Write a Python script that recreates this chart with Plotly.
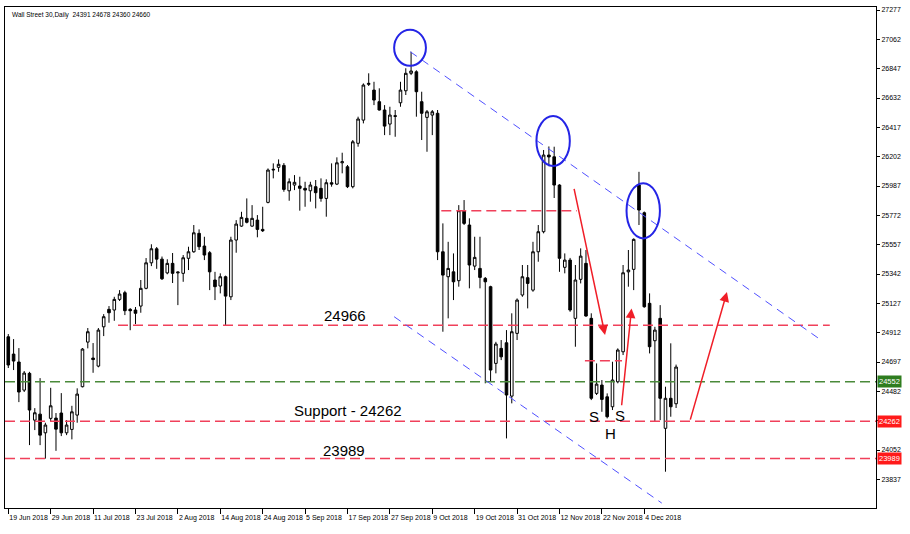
import plotly.graph_objects as go
import pandas as pd

# ---------------- data ----------------
dates = pd.bdate_range("2018-06-19", periods=127)

opens = [24882, 24755, 24697, 24491, 24614, 24271, 24315, 24178, 24284, 24286,
         24323, 24178, 24203, 24308, 24516, 24843, 24726, 24667, 24955, 25083,
         25078, 25156, 25205, 25083, 25078, 25107, 25237, 25424, 25527, 25451,
         25350, 25420, 25350, 25347, 25457, 25505, 25640, 25547, 25498, 25298,
         25254, 25322, 25175, 25591, 25693, 25750, 25693, 25737, 25669, 25867,
         26104, 26124, 26138, 25952, 25994, 25987, 25970, 25952, 25982, 25970,
         25896, 26011, 26001, 26157, 26128, 25982, 26300, 26470, 26732, 26690,
         26605, 26544, 26441, 26502, 26597, 26685, 26813, 26824, 26605, 26490,
         26507, 26520, 25505, 25322, 25358, 25293, 25806, 25701, 25400, 25383,
         25310, 25249, 24687, 24797, 24838, 24447, 24907, 25188, 25315, 25224,
         25505, 25652, 26214, 26201, 25994, 25391, 25444, 25017, 25303, 25420,
         25017, 24467, 24528, 24442, 24369, 24552, 24772, 25358, 25376, 25994,
         25791, 25127, 24853, 25017, 24211, 24431, 24391]
highs = [24902, 24865, 24799, 24631, 24625, 24359, 24579, 24252, 24508, 24323,
         24469, 24271, 24376, 24504, 24799, 24946, 24836, 24946, 25048, 25107,
         25175, 25224, 25219, 25092, 25100, 25298, 25459, 25560, 25540, 25470,
         25450, 25496, 25360, 25481, 25542, 25701, 25669, 25615, 25510, 25358,
         25347, 25330, 25615, 25737, 25798, 25896, 25847, 25774, 25835, 26116,
         26153, 26182, 26155, 26043, 26067, 26055, 26018, 26018, 26031, 26043,
         26036, 26153, 26197, 26231, 26141, 26324, 26495, 26739, 26813, 26751,
         26703, 26580, 26568, 26544, 26751, 26850, 26971, 26835, 26678, 26544,
         26544, 26544, 25713, 25578, 25493, 25847, 25884, 25750, 25615, 25615,
         25320, 25256, 24845, 24858, 24931, 25054, 25163, 25408, 25408, 25578,
         25701, 26251, 26277, 26275, 26000, 25493, 25460, 25408, 25530, 25518,
         25054, 24687, 24565, 24467, 24699, 24797, 25408, 25518, 25603, 26091,
         25800, 25200, 24955, 25114, 24516, 24834, 24678]
lows = [24653, 24638, 24403, 24477, 24088, 24198, 24088, 23989, 24265, 24046,
        24154, 24161, 24130, 24252, 24511, 24797, 24618, 24658, 24887, 24985,
        24999, 25144, 25041, 24930, 24975, 25058, 25230, 25400, 25380, 25298,
        25340, 25276, 25114, 25285, 25371, 25498, 25518, 25444, 25224, 25151,
        25200, 24966, 25151, 25498, 25688, 25713, 25688, 25611, 25650, 25860,
        26043, 26091, 25945, 25879, 25957, 25806, 25835, 25872, 25823, 25872,
        25762, 25982, 25994, 26080, 25972, 25970, 26275, 26446, 26720, 26580,
        26540, 26360, 26360, 26348, 26568, 26654, 26800, 26495, 26324, 26238,
        26360, 25444, 24919, 25017, 25151, 25249, 25701, 25237, 25371, 25237,
        24541, 24552, 24614, 24711, 24137, 24394, 24858, 25175, 25090, 25212,
        25432, 25640, 26132, 25899, 25358, 25347, 25065, 24809, 25273, 25029,
        24418, 24455, 24332, 24284, 24345, 24541, 24748, 25249, 25224, 25701,
        25095, 24760, 24262, 24271, 23893, 24296, 24360]
closes = [24675, 24704, 24477, 24616, 24345, 24325, 24161, 24235, 24376, 24205,
          24178, 24235, 24332, 24462, 24792, 24919, 24715, 24931, 25029, 25058,
          25156, 25195, 25073, 25073, 25054, 25237, 25424, 25527, 25451, 25307,
          25420, 25347, 25356, 25461, 25505, 25644, 25542, 25481, 25358, 25249,
          25322, 25180, 25591, 25708, 25757, 25721, 25750, 25669, 25659, 26104,
          26109, 26146, 25962, 26018, 26014, 25970, 25957, 25994, 25938, 25896,
          26011, 26001, 26157, 26165, 25982, 26311, 26478, 26727, 26739, 26617,
          26544, 26426, 26507, 26498, 26690, 26813, 26830, 26678, 26520, 26531,
          26531, 25505, 25334, 25383, 25285, 25806, 25713, 25408, 25464, 25317,
          25285, 24638, 24829, 24735, 24455, 24919, 25151, 25322, 25273, 25505,
          25652, 26214, 26200, 25994, 25457, 25444, 25078, 25298, 25473, 25034,
          24431, 24535, 24423, 24296, 24565, 24785, 25351, 25371, 25596, 25811,
          25102, 24809, 24931, 24431, 24431, 24369, 24660]

date_labels = ["19 Jun 2018", "29 Jun 2018", "11 Jul 2018", "23 Jul 2018",
               "2 Aug 2018", "14 Aug 2018", "24 Aug 2018", "5 Sep 2018",
               "17 Sep 2018", "27 Sep 2018", "9 Oct 2018", "19 Oct 2018",
               "31 Oct 2018", "12 Nov 2018", "22 Nov 2018", "4 Dec 2018"]
label_dates = pd.to_datetime(date_labels, format="%d %b %Y")

price_ticks = [27277, 27062, 26847, 26632, 26417, 26202, 25987, 25772, 25557,
               25342, 25127, 24912, 24697, 24482, 24267, 24052, 23837]
price_tick_text = ["27277", "27062", "26847", "26632", "26417", "26202", "25987",
                   "25772", "25557", "25342", "25127", "24912", "24697", "24482",
                   "", "24052", "23837"]

# horizontal levels
level_24966 = 24966
support = 24262
level_23989 = 23989
current_level = 24552
resist_short = 25806
neck_level = 24706

title_text = "Wall Street 30,Daily  24391 24678 24360 24660"

# ---------------- figure ----------------
xi = list(range(len(dates)))
date_to_i = {d: i for i, d in enumerate(dates)}
tick_idx = [date_to_i[d] for d in label_dates]

FONT = "Liberation Sans, Arial, sans-serif"
RED = "#F0405A"
BLUE = "#5050FF"
CIRC = "#2424E6"
ARW = "#F01E28"

fig = go.Figure()
fig.add_trace(go.Candlestick(
    x=xi, open=opens, high=highs, low=lows, close=closes,
    increasing=dict(line=dict(color="#000000", width=1), fillcolor="#FFFFFF"),
    decreasing=dict(line=dict(color="#000000", width=1), fillcolor="#000000"),
    whiskerwidth=0, showlegend=False, hoverinfo="skip"))

shapes = []
def hline(y, color, x0=None, x1=None):
    if x0 is None:
        shapes.append(dict(type="line", xref="paper", x0=0, x1=1, yref="y", y0=y, y1=y,
                           line=dict(color=color, width=1.5, dash="10px,5px")))
    else:
        shapes.append(dict(type="line", xref="x", x0=x0, x1=x1, yref="y", y0=y, y1=y,
                           line=dict(color=color, width=1.5, dash="10px,5px")))

hline(current_level, "#4A8A3A")
hline(support, RED)
hline(level_23989, RED)
hline(level_24966, RED, 20.7, 155)
hline(resist_short, RED, 81.7, 107.3)
hline(neck_level, RED, 108.8, 115.8)

# channel lines
shapes.append(dict(type="line", xref="x", yref="y", x0=75.85, y0=26971, x1=152.8, y1=24873,
                   line=dict(color=BLUE, width=1, dash="8px,6px")))
shapes.append(dict(type="line", xref="x", yref="y", x0=72.8, y0=25029, x1=123.3, y1=23663,
                   line=dict(color=BLUE, width=1, dash="8px,6px")))

# circles (center index, center price, half width in bars, half height in price)
for cx, cy, rx, ry in [(75.8, 27000, 3.0, 132), (102.8, 26317, 3.15, 183), (119.8, 25805, 3.15, 202)]:
    shapes.append(dict(type="circle", xref="x", yref="y", x0=cx - rx, x1=cx + rx,
                       y0=cy - ry, y1=cy + ry, line=dict(color=CIRC, width=2)))

annotations = []
annotations.append(dict(xref="paper", yref="paper", x=0.006, y=0.984, xanchor="left",
                        yanchor="middle", text=title_text, showarrow=False,
                        font=dict(family=FONT, size=6.5, color="#000000")))
for txt, x, y in [("24966", 63.5, 25036), ("Support - 24262", 64.1, 24345), ("23989", 63.3, 24052),
                  ("S", 110.6, 24296), ("H", 113.6, 24174), ("S", 115.5, 24308)]:
    annotations.append(dict(xref="x", yref="y", x=x, y=y, text=txt, showarrow=False,
                            font=dict(family=FONT, size=15, color="#000000")))

# arrows: (tail x, tail y, head x, head y)
for ax, ay, hx, hy in [(106.7, 25977, 112.6, 24895), (115.7, 24369, 117.6, 25090),
                       (128.6, 24264, 135.6, 25210)]:
    annotations.append(dict(xref="x", yref="y", axref="x", ayref="y", x=hx, y=hy, ax=ax, ay=ay,
                            text="", showarrow=True, arrowhead=2, arrowsize=1.3,
                            arrowwidth=1.5, arrowcolor=ARW, standoff=0, startstandoff=0))

# price boxes on the axis
for val, bg in [(current_level, "#2E7D1F"), (support, "#FF1A1A"), (level_23989, "#FF1A1A")]:
    annotations.append(dict(xref="paper", yref="y", x=1.0, y=val, xanchor="left", yanchor="middle",
                            text=str(val), showarrow=False, bgcolor=bg, borderpad=1,
                            xshift=1, font=dict(family=FONT, size=7.5, color="#FFFFFF")))

fig.update_layout(
    width=910, height=534,
    margin=dict(l=5, r=34, t=7, b=26, autoexpand=False),
    paper_bgcolor="#FFFFFF", plot_bgcolor="#FFFFFF",
    font=dict(family=FONT, size=7, color="#000000"),
    shapes=shapes, annotations=annotations,
    showlegend=False,
)
fig.update_xaxes(
    range=[-0.62, 163.72], rangeslider=dict(visible=False),
    tickmode="array", tickvals=tick_idx, ticktext=date_labels,
    ticks="outside", ticklen=5, tickcolor="#000000", tickangle=0,
    ticklabelposition="outside right", ticklabelstandoff=3, automargin=False,
    showgrid=False, zeroline=False,
    showline=True, linecolor="#000000", linewidth=1, mirror=True,
    tickfont=dict(family=FONT, size=7, color="#000000"),
)
fig.update_yaxes(
    range=[23627, 27299], side="right", automargin=False,
    tickmode="array", tickvals=price_ticks, ticktext=price_tick_text,
    ticks="outside", ticklen=3, tickcolor="#000000",
    showgrid=False, zeroline=False,
    showline=True, linecolor="#000000", linewidth=1, mirror=True,
    tickfont=dict(family=FONT, size=7, color="#000000"),
)

fig.write_html("out.html", config={"displayModeBar": False},
               post_script="document.body.style.margin='0px';document.body.style.overflow='hidden';")
